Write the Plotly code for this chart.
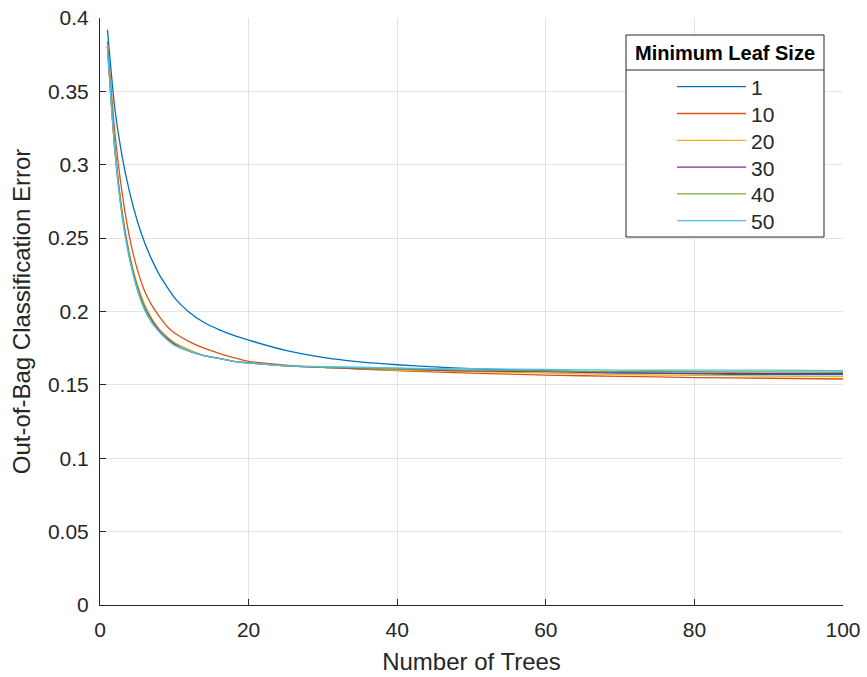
import plotly.graph_objects as go

trees = [1, 2, 3, 4, 5, 6, 7, 8, 9, 10, 12, 14, 16, 18, 20, 25, 30, 35, 40, 45, 50, 60, 70, 80, 90, 100]

leaf_sizes = ["1", "10", "20", "30", "40", "50"]

err_leaf1 = [0.392, 0.338, 0.305, 0.281, 0.262, 0.247, 0.235, 0.225, 0.217, 0.2095, 0.1995, 0.1925, 0.1877, 0.1837, 0.1805,
             0.1735, 0.1688, 0.1657, 0.1637, 0.1622, 0.161, 0.1595, 0.1585, 0.1575, 0.157, 0.157]
err_leaf10 = [0.384, 0.322, 0.280, 0.250, 0.229, 0.214, 0.204, 0.1965, 0.190, 0.1855, 0.1795, 0.175, 0.1715, 0.1685, 0.166,
              0.1635, 0.162, 0.1608, 0.1598, 0.1588, 0.158, 0.1567, 0.1558, 0.155, 0.1545, 0.154]
err_leaf20 = [0.382, 0.313, 0.268, 0.239, 0.219, 0.205, 0.195, 0.188, 0.183, 0.179, 0.174, 0.170, 0.168, 0.166, 0.165,
              0.163, 0.162, 0.161, 0.160, 0.1595, 0.159, 0.158, 0.157, 0.1565, 0.156, 0.1556]
err_leaf30 = [0.381, 0.311, 0.266, 0.237, 0.217, 0.203, 0.194, 0.187, 0.182, 0.178, 0.173, 0.170, 0.168, 0.166, 0.165,
              0.163, 0.162, 0.161, 0.161, 0.160, 0.1595, 0.159, 0.158, 0.158, 0.1578, 0.1576]
err_leaf40 = [0.380, 0.310, 0.265, 0.236, 0.216, 0.202, 0.193, 0.186, 0.181, 0.177, 0.173, 0.170, 0.168, 0.166, 0.165,
              0.163, 0.162, 0.1615, 0.161, 0.1605, 0.160, 0.1595, 0.159, 0.159, 0.1588, 0.1586]
err_leaf50 = [0.381, 0.309, 0.264, 0.235, 0.215, 0.201, 0.192, 0.186, 0.181, 0.177, 0.173, 0.170, 0.168, 0.166, 0.165,
              0.163, 0.1625, 0.162, 0.1615, 0.161, 0.161, 0.1605, 0.160, 0.160, 0.160, 0.1597]

series = [err_leaf1, err_leaf10, err_leaf20, err_leaf30, err_leaf40, err_leaf50]
colors = ["#0072BD", "#D95319", "#EDB120", "#7E2F8E", "#77AC30", "#4DBEEE"]

x_ticks = [0, 20, 40, 60, 80, 100]
y_ticks = [0, 0.05, 0.1, 0.15, 0.2, 0.25, 0.3, 0.35, 0.4]
y_tick_labels = ["0", "0.05", "0.1", "0.15", "0.2", "0.25", "0.3", "0.35", "0.4"]
legend_title = "Minimum Leaf Size"

FONT = "Liberation Sans, Arial, sans-serif"
TXT = "#262626"

W, H = 867, 677
ML, MR, MT, MB = 100, 24, 18, 72
PW, PH = W - ML - MR, H - MT - MB


def px(xp):
    return (xp - ML) / PW


def py(yp):
    return (H - MB - yp) / PH


fig = go.Figure()
for name, vals, c in zip(leaf_sizes, series, colors):
    fig.add_trace(go.Scatter(x=trees, y=vals, mode="lines", name=name,
                             line=dict(color=c, width=1.3, shape="spline", smoothing=0.6)))

axis_common = dict(showgrid=True, gridcolor="#e3e3e3", gridwidth=1, zeroline=False,
                   showline=True, linecolor=TXT, linewidth=1, ticks="inside", ticklen=6,
                   tickcolor=TXT, tickfont=dict(family=FONT, size=21, color=TXT), automargin=False)

# legend box drawn in paper space
shapes = [
    dict(type="rect", xref="paper", yref="paper", x0=px(626), x1=px(824), y0=py(237), y1=py(35),
         fillcolor="white", line=dict(color=TXT, width=1), layer="above"),
    dict(type="line", xref="paper", yref="paper", x0=px(626), x1=px(824), y0=py(70), y1=py(70),
         line=dict(color=TXT, width=1), layer="above"),
]
annotations = [
    dict(xref="paper", yref="paper", x=px(725), y=py(53), text="<b>" + legend_title + "</b>",
         showarrow=False, xanchor="center", yanchor="middle",
         font=dict(family=FONT, size=20, color="black")),
]
row0, row_step = 86.7, 26.8
for i, (name, c) in enumerate(zip(leaf_sizes, colors)):
    yy = row0 + i * row_step
    shapes.append(dict(type="line", xref="paper", yref="paper", x0=px(677), x1=px(746),
                       y0=py(yy), y1=py(yy), line=dict(color=c, width=1.3), layer="above"))
    annotations.append(dict(xref="paper", yref="paper", x=px(749), y=py(yy + 1), text=name,
                            showarrow=False, xanchor="left", yanchor="middle",
                            font=dict(family=FONT, size=21, color=TXT)))

fig.update_layout(
    width=W, height=H,
    margin=dict(l=ML, r=MR, t=MT, b=MB, autoexpand=False),
    paper_bgcolor="white", plot_bgcolor="white",
    font=dict(family=FONT, size=21, color=TXT),
    xaxis=dict(range=[0, 100], tickvals=x_ticks, ticklabelstandoff=6,
               title=dict(text="Number of Trees", font=dict(family=FONT, size=24, color=TXT), standoff=12),
               **axis_common),
    yaxis=dict(range=[0, 0.4], tickvals=y_ticks, ticktext=y_tick_labels, ticklabelstandoff=6,
               title=dict(text="Out-of-Bag Classification Error", font=dict(family=FONT, size=24, color=TXT), standoff=10),
               **axis_common),
    showlegend=False,
    shapes=shapes,
    annotations=annotations,
)

fig.write_html("out.html")
